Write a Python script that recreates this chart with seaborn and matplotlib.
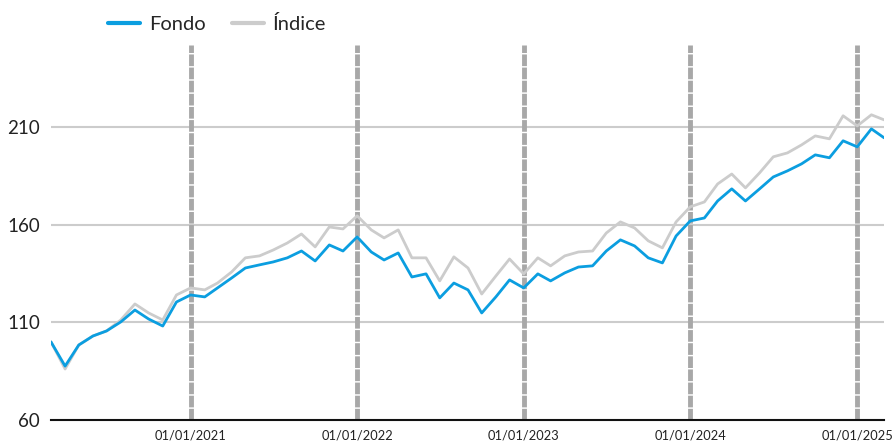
import pandas as pd
import seaborn as sns
import matplotlib
matplotlib.use("Agg")
import matplotlib.pyplot as plt
import matplotlib.dates as mdates

# Monthly values, Mar 2020 - Mar 2025
start_month = "2020-03-01"
fondo = [100, 87.6, 98.4, 103, 105.6, 110.2, 116.3, 111.7, 108.1, 120.4,
         124, 123, 127.6, 132.7, 137.8, 139.4, 140.9, 143, 146.5, 141.4,
         149.6, 146.5, 153.7, 146, 141.9, 145.5, 133.2, 134.8, 122.5, 130.1,
         126.6, 114.8, 123, 131.7, 127.6, 134.8, 131.2, 135.3, 138.3, 138.9,
         146.5, 152.2, 149.1, 143, 140.4, 154.2, 161.9, 163.4, 172.1, 178.3,
         172.1, 178.3, 184.4, 187.5, 191.1, 195.7, 194.2, 202.9, 199.8, 209,
         204.4]
indice = [100, 86.1, 98.4, 103, 105.6, 111.2, 119.4, 114.8, 111.2, 124,
          127.6, 126.6, 130.1, 135.8, 143, 144, 147, 150.6, 155.2, 148.6,
          158.8, 157.8, 164.5, 157.3, 153.2, 157.3, 143, 143, 131.2, 143.5,
          137.8, 124.5, 133.7, 142.4, 134.8, 143, 138.9, 144, 146, 146.5,
          155.7, 161.4, 158.3, 151.7, 148.1, 161.4, 169.1, 171.6, 180.8, 185.9,
          178.8, 186.5, 194.7, 196.7, 200.8, 205.4, 203.9, 215.7, 210.5, 216.2,
          213.6]
year_marks = ["2021-01-01", "2022-01-01", "2023-01-01", "2024-01-01", "2025-01-01"]
y_ticks = [60, 110, 160, 210]


def main():
    dates = pd.date_range(start_month, periods=len(fondo), freq="MS")
    df = pd.DataFrame({"fecha": dates, "Fondo": fondo, "Índice": indice})
    long_df = df.melt(id_vars="fecha", var_name="serie", value_name="valor")

    sns.set_theme(style="white")
    plt.rcParams["font.family"] = ["Lato", "DejaVu Sans"]

    fig = plt.figure(figsize=(8.94, 4.44), dpi=100)
    ax = fig.add_axes([0.057, 0.054, 0.932, 0.845])

    for y in y_ticks[1:]:
        ax.axhline(y, color="#cccccc", linewidth=1.5, zorder=1)

    marks = pd.to_datetime(year_marks)
    for d in marks:
        ax.axvline(d, color="#a8a8a8", linewidth=3.5,
                   linestyle=(0, (2.4, 0.3)), zorder=2)

    sns.lineplot(data=long_df, x="fecha", y="valor", hue="serie",
                 hue_order=["Índice", "Fondo"],
                 palette={"Fondo": "#0b9ee0", "Índice": "#cccccc"},
                 linewidth=2, ax=ax, zorder=3, legend=False)

    ax.set_xlim(dates[0], dates[-1])
    ax.set_ylim(60, 252)
    ax.set_yticks(y_ticks)
    ax.set_xticks(marks)
    ax.xaxis.set_major_formatter(mdates.DateFormatter("%d/%m/%Y"))
    ax.tick_params(axis="both", length=0, colors="#222222")
    ax.tick_params(axis="y", pad=8, labelsize=13.5)
    ax.tick_params(axis="x", pad=7, labelsize=9.3)
    ax.set_xlabel("")
    ax.set_ylabel("")

    for side in ["top", "right", "left"]:
        ax.spines[side].set_visible(False)
    ax.spines["bottom"].set_color("#111111")
    ax.spines["bottom"].set_linewidth(1.5)

    handles = [plt.Line2D([], [], color="#0b9ee0", linewidth=3),
               plt.Line2D([], [], color="#cccccc", linewidth=3)]
    fig.legend(handles, ["Fondo", "Índice"], loc="upper left",
               bbox_to_anchor=(0.1, 1.008), ncol=2, frameon=False,
               fontsize=14.5, handlelength=1.6, columnspacing=1.3,
               handletextpad=0.45)

    fig.savefig("out.png", dpi=100)


if __name__ == "__main__":
    main()
